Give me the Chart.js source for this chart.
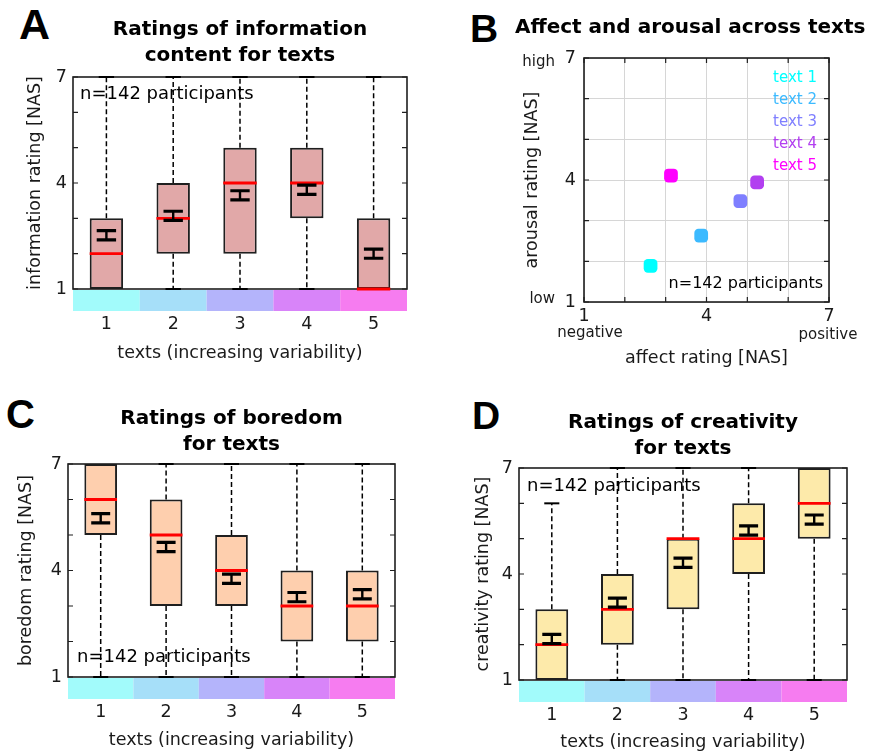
<!DOCTYPE html>
<html>
<head>
<meta charset="utf-8">
<script src="https://cdn.jsdelivr.net/npm/chart.js@4.4.0/dist/chart.umd.min.js"></script>
<style>
  body { margin: 0; background: #fff; width: 873px; height: 755px; position: relative; overflow: hidden; }
  canvas { position: absolute; }
  .letter { position: absolute; font-family: 'Liberation Sans', Arial, sans-serif; font-weight: bold; line-height: 1; color: #000; }
</style>
</head>
<body>
<div class="letter" style="left:19px;top:3px;font-size:43px">A</div>
<div class="letter" style="left:470px;top:9px;font-size:39px">B</div>
<div class="letter" style="left:6px;top:394px;font-size:40px">C</div>
<div class="letter" style="left:472px;top:396px;font-size:39px">D</div>

<canvas id="chartA" width="440" height="375" style="left:0;top:0"></canvas>
<canvas id="chartB" width="460" height="375" style="left:440px;top:0"></canvas>
<canvas id="chartC" width="440" height="380" style="left:0;top:375px"></canvas>
<canvas id="chartD" width="433" height="380" style="left:440px;top:375px"></canvas>

<script>
// --- DATA ---
const textTicks = ['1', '2', '3', '4', '5'];
const textNames = ['text 1', 'text 2', 'text 3', 'text 4', 'text 5'];
const textColors = ['#00ffff', '#3cbaff', '#7f7fff', '#b23ff0', '#ff00ff'];
const bandColors = ['#a2fbfb', '#a6dff9', '#b4b4fb', '#d884f9', '#f67cf0'];
const ratingTicks = [1, 4, 7];
const noteText = 'n=142 participants';

// A: information content
const infoQ1 = [1, 2, 2, 3, 1];
const infoQ3 = [3, 4, 5, 5, 3];
const infoMedian = [2, 3, 4, 4, 1];
const infoMean = [2.52, 3.07, 3.65, 3.81, 2.0];
const infoSem = [0.13, 0.13, 0.13, 0.13, 0.13];
const infoLow = [1, 1, 1, 1, 1];
const infoHigh = [7, 7, 7, 7, 7];

// B: affect / arousal means
const affectMean = [2.63, 3.87, 4.83, 5.24, 3.13];
const arousalMean = [1.89, 2.63, 3.48, 3.94, 4.11];

// C: boredom
const boreQ1 = [5, 3, 3, 2, 2];
const boreQ3 = [7, 6, 5, 4, 4];
const boreMedian = [6, 5, 4, 3, 3];
const boreMean = [5.47, 4.66, 3.77, 3.25, 3.33];
const boreSem = [0.13, 0.13, 0.13, 0.13, 0.13];
const boreLow = [1, 1, 1, 1, 1];
const boreHigh = [7, 7, 7, 7, 7];

// D: creativity
const creaQ1 = [1, 2, 3, 4, 5];
const creaQ3 = [3, 4, 5, 6, 7];
const creaMedian = [2, 3, 5, 5, 6];
const creaMean = [2.16, 3.19, 4.32, 5.23, 5.54];
const creaSem = [0.13, 0.13, 0.13, 0.13, 0.13];
const creaLow = [1, 1, 1, 1, 1];
const creaHigh = [6, 7, 7, 7, 7];

// --- STYLE ---
const FONT = "'DejaVu Sans', sans-serif";
const INK = '#1f1f1f';
Chart.defaults.font.family = FONT;
Chart.defaults.font.size = 17.5;
Chart.defaults.color = '#1a1a1a';

// frame with inward ticks, MATLAB style
function drawFrame(ctx, a, y, xs) {
    ctx.save();
    ctx.strokeStyle = INK;
    ctx.lineWidth = 1.6;
    ctx.strokeRect(a.left, a.top, a.width, a.height);
    ctx.lineWidth = 1.2;
    ctx.beginPath();
    for (let v = 1; v <= 7; v++) {
        const py = y.getPixelForValue(v);
        ctx.moveTo(a.left, py); ctx.lineTo(a.left + 5, py);
        ctx.moveTo(a.right, py); ctx.lineTo(a.right - 5, py);
    }
    xs.forEach(px => {
        ctx.moveTo(px, a.top); ctx.lineTo(px, a.top + 5);
        ctx.moveTo(px, a.bottom); ctx.lineTo(px, a.bottom - 5);
    });
    ctx.stroke();
    ctx.restore();
}

function boxDecor(s) {
    return {
        id: 'boxDecor',
        beforeDatasetsDraw(chart) {
            const { ctx, chartArea: a, scales: { x, y } } = chart;
            drawFrame(ctx, a, y, []);
            // colour band under the axis, one cell per text
            ctx.save();
            bandColors.forEach((c, i) => {
                const l = x.getPixelForValue(i - 0.5), r = x.getPixelForValue(i + 0.5);
                ctx.fillStyle = c;
                ctx.fillRect(l, a.bottom + 1, r - l, 21);
            });
            ctx.restore();
        },
        afterDatasetsDraw(chart) {
            const { ctx, chartArea: a, scales: { y } } = chart;
            const bars = chart.getDatasetMeta(0).data;
            ctx.save();
            bars.forEach((bar, i) => {
                const cx = bar.x, w = bar.width;
                // whiskers (dashed) + caps
                ctx.strokeStyle = '#000';
                ctx.lineWidth = 1.5;
                ctx.setLineDash([5, 3]);
                ctx.beginPath();
                if (s.high[i] > s.q3[i]) {
                    ctx.moveTo(cx, y.getPixelForValue(s.q3[i]));
                    ctx.lineTo(cx, y.getPixelForValue(s.high[i]));
                }
                if (s.low[i] < s.q1[i]) {
                    ctx.moveTo(cx, y.getPixelForValue(s.q1[i]));
                    ctx.lineTo(cx, y.getPixelForValue(s.low[i]));
                }
                ctx.stroke();
                ctx.setLineDash([]);
                ctx.lineWidth = 2;
                ctx.beginPath();
                [[s.high[i], s.q3[i]], [s.low[i], s.q1[i]]].forEach(([end, edge]) => {
                    if (end === edge) return;
                    const py = y.getPixelForValue(end);
                    ctx.moveTo(cx - w * 0.23, py);
                    ctx.lineTo(cx + w * 0.23, py);
                });
                ctx.stroke();

                // median
                const my = y.getPixelForValue(s.median[i]);
                ctx.strokeStyle = '#ff0000';
                ctx.lineWidth = 2.8;
                ctx.beginPath();
                ctx.moveTo(cx - w / 2, my);
                ctx.lineTo(cx + w / 2, my);
                ctx.stroke();

                // mean +- sem
                const t = y.getPixelForValue(s.mean[i] + s.sem[i]);
                const b = y.getPixelForValue(s.mean[i] - s.sem[i]);
                const hw = w * 0.29;
                ctx.strokeStyle = '#000';
                ctx.lineWidth = 2.4;
                ctx.beginPath();
                ctx.moveTo(cx, t); ctx.lineTo(cx, b);
                ctx.stroke();
                ctx.lineWidth = 3.2;
                ctx.beginPath();
                ctx.moveTo(cx - hw, t); ctx.lineTo(cx + hw, t);
                ctx.moveTo(cx - hw, b); ctx.lineTo(cx + hw, b);
                ctx.stroke();
            });

            // participants note
            ctx.fillStyle = '#000';
            ctx.font = '18px ' + FONT;
            ctx.textBaseline = 'middle';
            ctx.textAlign = 'left';
            const ny = s.noteTop ? a.top + s.noteDy : a.bottom - s.noteDy;
            ctx.fillText(noteText, a.left + s.noteDx, ny);
            ctx.restore();
        }
    };
}

function makeBoxChart(id, s) {
    return new Chart(document.getElementById(id), {
        type: 'bar',
        data: {
            labels: textTicks,
            datasets: [{
                data: s.q1.map((v, i) => [v, s.q3[i]]),
                backgroundColor: s.fill,
                borderColor: INK,
                borderWidth: 2,
                borderSkipped: false,
                barPercentage: 0.5,
                categoryPercentage: 1
            }]
        },
        options: {
            responsive: false,
            animation: false,
            events: [],
            layout: { padding: { left: 0, right: s.padRight, top: 0, bottom: 0 } },
            plugins: {
                legend: { display: false },
                tooltip: { enabled: false },
                title: {
                    display: true,
                    text: s.title,
                    fullSize: false,
                    color: '#000',
                    font: { size: 20, weight: 'bold', lineHeight: '25.5px' },
                    padding: { top: s.titleTop, bottom: s.titleBottom }
                }
            },
            scales: {
                x: {
                    grid: { display: false, drawTicks: false },
                    border: { display: false },
                    ticks: { padding: 24.5 },
                    title: { display: true, text: 'texts (increasing variability)', color: '#1a1a1a', padding: { top: 0, bottom: s.xTitleBottom } },
                    afterFit: sc => { sc.height = s.xHeight; }
                },
                y: {
                    min: 1, max: 7,
                    grid: { display: false, drawTicks: false },
                    border: { display: false },
                    ticks: { stepSize: 1, padding: 6, callback: v => ratingTicks.includes(v) ? v : '' },
                    title: { display: true, text: s.yTitle, color: '#1a1a1a', padding: { top: s.yTitleTop, bottom: 0 } },
                    afterFit: sc => { sc.width = s.yWidth; }
                }
            }
        },
        plugins: [boxDecor(s)]
    });
}

makeBoxChart('chartA', {
    q1: infoQ1, q3: infoQ3, median: infoMedian, mean: infoMean, sem: infoSem, low: infoLow, high: infoHigh,
    fill: '#e1a8a8',
    title: ['Ratings of information', 'content for texts'],
    yTitle: 'information rating [NAS]',
    padRight: 33, yWidth: 73, yTitleTop: 24.5,
    titleTop: 17.5, titleBottom: 8.5,
    xHeight: 86, xTitleBottom: 11.5,
    noteTop: true, noteDx: 7, noteDy: 17
});

makeBoxChart('chartC', {
    q1: boreQ1, q3: boreQ3, median: boreMedian, mean: boreMean, sem: boreSem, low: boreLow, high: boreHigh,
    fill: '#fecfae',
    title: ['Ratings of boredom', 'for texts'],
    yTitle: 'boredom rating [NAS]',
    padRight: 45, yWidth: 68, yTitleTop: 15.5,
    titleTop: 31.25, titleBottom: 6.75,
    xHeight: 78, xTitleBottom: 4.5,
    noteTop: false, noteDx: 9, noteDy: 20
});

makeBoxChart('chartD', {
    q1: creaQ1, q3: creaQ3, median: creaMedian, mean: creaMean, sem: creaSem, low: creaLow, high: creaHigh,
    fill: '#fdeaaa',
    title: ['Ratings of creativity', 'for texts'],
    yTitle: 'creativity rating [NAS]',
    padRight: 26, yWidth: 79, yTitleTop: 33,
    titleTop: 35.5, titleBottom: 6.5,
    xHeight: 75, xTitleBottom: 2.5,
    noteTop: true, noteDx: 8, noteDy: 18
});

// --- PANEL B: scatter of means ---
const scatterDecor = {
    id: 'scatterDecor',
    beforeDatasetsDraw(chart) {
        const { ctx, chartArea: a, scales: { x, y } } = chart;
        drawFrame(ctx, a, y, [1, 2, 3, 4, 5, 6, 7].map(v => x.getPixelForValue(v)));
    },
    afterDatasetsDraw(chart) {
        const { ctx, chartArea: a, scales: { x, y } } = chart;
        ctx.save();
        // legend as coloured words
        ctx.font = '15px ' + FONT;
        ctx.textAlign = 'right';
        ctx.textBaseline = 'middle';
        chart.data.datasets.forEach((ds, i) => {
            ctx.fillStyle = ds.backgroundColor;
            ctx.fillText(ds.label, a.right - 12, a.top + 20 + i * 22);
        });
        // note
        ctx.fillStyle = '#000';
        ctx.font = '16px ' + FONT;
        ctx.fillText(noteText, a.right - 6, a.bottom - 18);
        // scale end words
        ctx.fillStyle = '#1a1a1a';
        ctx.font = '15px ' + FONT;
        ctx.fillText('high', a.left - 29, y.getPixelForValue(7) + 4);
        ctx.fillText('low', a.left - 29, y.getPixelForValue(1) - 3);
        ctx.textAlign = 'center';
        ctx.fillText('negative', x.getPixelForValue(1) + 6, a.bottom + 31);
        ctx.fillText('positive', x.getPixelForValue(7) - 1, a.bottom + 33);
        ctx.restore();
    }
};

new Chart(document.getElementById('chartB'), {
    type: 'scatter',
    data: {
        datasets: textNames.map((name, i) => ({
            label: name,
            data: [{ x: affectMean[i], y: arousalMean[i] }],
            backgroundColor: textColors[i],
            borderColor: textColors[i],
            borderWidth: 0,
            pointStyle: 'rectRounded',
            pointRadius: 8
        }))
    },
    options: {
        responsive: false,
        animation: false,
        events: [],
        layout: { padding: { left: 75, right: 0, top: 0, bottom: 0 } },
        plugins: {
            legend: { display: false },
            tooltip: { enabled: false },
            title: {
                display: true,
                text: 'Affect and arousal across texts',
                align: 'start',
                color: '#000',
                font: { size: 20, weight: 'bold', lineHeight: '24px' },
                padding: { top: 15.5, bottom: 18.5 }
            }
        },
        scales: {
            x: {
                type: 'linear', min: 1, max: 7,
                grid: { color: '#d6d6d6', drawTicks: false },
                border: { display: false },
                ticks: { stepSize: 1, padding: 3.5, callback: v => ratingTicks.includes(v) ? v : '' },
                title: { display: true, text: 'affect rating [NAS]', color: '#1a1a1a', padding: { top: 0, bottom: 6.5 } },
                afterFit: sc => { sc.height = 73; }
            },
            y: {
                type: 'linear', min: 1, max: 7,
                grid: { color: '#d6d6d6', drawTicks: false },
                border: { display: false },
                ticks: { stepSize: 1, padding: 8, callback: v => ratingTicks.includes(v) ? v : '' },
                title: { display: true, text: 'arousal rating [NAS]', color: '#1a1a1a', padding: { top: 7, bottom: 0 } },
                afterFit: sc => { sc.width = 69; }
            },
            y2: {
                type: 'linear', position: 'right', min: 1, max: 7,
                grid: { display: false, drawTicks: false },
                border: { display: false },
                ticks: { display: false },
                afterFit: sc => { sc.width = 71; }
            }
        }
    },
    plugins: [scatterDecor]
});
</script>
</body>
</html>
